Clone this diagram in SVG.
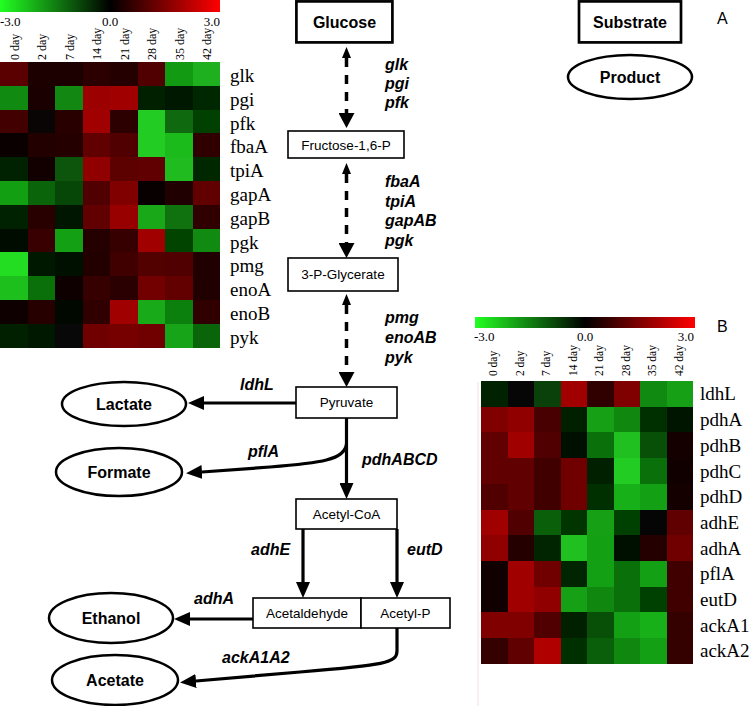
<svg xmlns="http://www.w3.org/2000/svg" width="750" height="706" viewBox="0 0 750 706">
<style>
.hl{font-family:"Liberation Serif",serif;font-size:19px;fill:#000}
.cl{font-family:"Liberation Serif",serif;font-size:12px;fill:#000}
.sc{font-family:"Liberation Serif",serif;font-size:13px;fill:#000}
.bx{fill:#fff;stroke:#000;stroke-width:1.6}
.bx2{fill:#fff;stroke:#000;stroke-width:2.7}
.el{fill:#fff;stroke:#000;stroke-width:2.5}
.bt{font-family:"Liberation Sans",Arial,sans-serif;font-size:16px;font-weight:bold;text-anchor:middle}
.nt{font-family:"Liberation Sans",Arial,sans-serif;font-size:13.5px;text-anchor:middle}
.gn{font-family:"Liberation Sans",Arial,sans-serif;font-size:16px;font-weight:bold;font-style:italic}
.sl{fill:none;stroke:#000;stroke-width:3.2}
.dl{fill:none;stroke:#000;stroke-width:3.5;stroke-dasharray:9 8}
.cells rect{shape-rendering:crispEdges}
</style>
<defs>
<linearGradient id="cb" x1="0" y1="0" x2="1" y2="0">
<stop offset="0" stop-color="#22ff22"/>
<stop offset="0.5" stop-color="#000"/>
<stop offset="1" stop-color="#ff0000"/>
</linearGradient>
<marker id="ah" viewBox="0 0 16 14" refX="0" refY="7" markerWidth="16" markerHeight="14" markerUnits="userSpaceOnUse" orient="auto">
<path d="M0,0 L16,7 L0,14 z" fill="#000"/>
</marker>
<marker id="ad" viewBox="0 0 15 16" refX="0" refY="8" markerWidth="15" markerHeight="16" markerUnits="userSpaceOnUse" orient="auto">
<path d="M0,0 L15,8 L0,16 z" fill="#000"/>
</marker>
<marker id="as" viewBox="0 0 11 9" refX="0" refY="4.5" markerWidth="11" markerHeight="9" markerUnits="userSpaceOnUse" orient="auto-start-reverse">
<path d="M0,0 L11,4.5 L0,9 z" fill="#000"/>
</marker>
</defs>
<rect width="750" height="706" fill="#fff"/>
<line x1="478" y1="382" x2="478" y2="706" stroke="#f3dede" stroke-width="1"/>

<!-- Left heatmap -->
<g id="heatmapA">
<rect x="0" y="0" width="220" height="12" fill="url(#cb)"/>
<text class="sc" x="0" y="26">-3.0</text>
<text class="sc" x="110" y="26" text-anchor="middle">0.0</text>
<text class="sc" x="220" y="26" text-anchor="end">3.0</text>
<text class="cl" transform="translate(18.75,60) rotate(-90)">0 day</text>
<text class="cl" transform="translate(46.25,60) rotate(-90)">2 day</text>
<text class="cl" transform="translate(73.75,60) rotate(-90)">7 day</text>
<text class="cl" transform="translate(101.25,60) rotate(-90)">14 day</text>
<text class="cl" transform="translate(128.75,60) rotate(-90)">21 day</text>
<text class="cl" transform="translate(156.25,60) rotate(-90)">28 day</text>
<text class="cl" transform="translate(183.75,60) rotate(-90)">35 day</text>
<text class="cl" transform="translate(211.25,60) rotate(-90)">42 day</text>
<g class="cells" transform="translate(0,62)">
<rect x="0" y="0" width="28" height="24.3" fill="#5a0000"/><rect x="27.5" y="0" width="28" height="24.3" fill="#1c0000"/><rect x="55" y="0" width="28" height="24.3" fill="#1c0000"/><rect x="82.5" y="0" width="28" height="24.3" fill="#2c0000"/><rect x="110" y="0" width="28" height="24.3" fill="#240000"/><rect x="137.5" y="0" width="28" height="24.3" fill="#500000"/><rect x="165" y="0" width="28" height="24.3" fill="#139a13"/><rect x="192.5" y="0" width="27.5" height="24.3" fill="#1fb01f"/>
<rect x="0" y="23.8" width="28" height="24.3" fill="#118a11"/><rect x="27.5" y="23.8" width="28" height="24.3" fill="#1a0000"/><rect x="55" y="23.8" width="28" height="24.3" fill="#128812"/><rect x="82.5" y="23.8" width="28" height="24.3" fill="#9c0000"/><rect x="110" y="23.8" width="28" height="24.3" fill="#a00000"/><rect x="137.5" y="23.8" width="28" height="24.3" fill="#002000"/><rect x="165" y="23.8" width="28" height="24.3" fill="#001800"/><rect x="192.5" y="23.8" width="27.5" height="24.3" fill="#002800"/>
<rect x="0" y="47.6" width="28" height="24.3" fill="#420000"/><rect x="27.5" y="47.6" width="28" height="24.3" fill="#0a0505"/><rect x="55" y="47.6" width="28" height="24.3" fill="#280000"/><rect x="82.5" y="47.6" width="28" height="24.3" fill="#a00000"/><rect x="110" y="47.6" width="28" height="24.3" fill="#2c0000"/><rect x="137.5" y="47.6" width="28" height="24.3" fill="#22cc22"/><rect x="165" y="47.6" width="28" height="24.3" fill="#0f6a0f"/><rect x="192.5" y="47.6" width="27.5" height="24.3" fill="#004000"/>
<rect x="0" y="71.4" width="28" height="24.3" fill="#0a0000"/><rect x="27.5" y="71.4" width="28" height="24.3" fill="#220000"/><rect x="55" y="71.4" width="28" height="24.3" fill="#240000"/><rect x="82.5" y="71.4" width="28" height="24.3" fill="#600000"/><rect x="110" y="71.4" width="28" height="24.3" fill="#500000"/><rect x="137.5" y="71.4" width="28" height="24.3" fill="#22cc22"/><rect x="165" y="71.4" width="28" height="24.3" fill="#1cbb1c"/><rect x="192.5" y="71.4" width="27.5" height="24.3" fill="#300000"/>
<rect x="0" y="95.2" width="28" height="24.3" fill="#002200"/><rect x="27.5" y="95.2" width="28" height="24.3" fill="#120000"/><rect x="55" y="95.2" width="28" height="24.3" fill="#0d550d"/><rect x="82.5" y="95.2" width="28" height="24.3" fill="#900000"/><rect x="110" y="95.2" width="28" height="24.3" fill="#5c0000"/><rect x="137.5" y="95.2" width="28" height="24.3" fill="#600000"/><rect x="165" y="95.2" width="28" height="24.3" fill="#1fbb1f"/><rect x="192.5" y="95.2" width="27.5" height="24.3" fill="#002800"/>
<rect x="0" y="119" width="28" height="24.3" fill="#12a012"/><rect x="27.5" y="119" width="28" height="24.3" fill="#0a640a"/><rect x="55" y="119" width="28" height="24.3" fill="#064606"/><rect x="82.5" y="119" width="28" height="24.3" fill="#500000"/><rect x="110" y="119" width="28" height="24.3" fill="#800000"/><rect x="137.5" y="119" width="28" height="24.3" fill="#080000"/><rect x="165" y="119" width="28" height="24.3" fill="#200000"/><rect x="192.5" y="119" width="27.5" height="24.3" fill="#600000"/>
<rect x="0" y="142.8" width="28" height="24.3" fill="#002200"/><rect x="27.5" y="142.8" width="28" height="24.3" fill="#280000"/><rect x="55" y="142.8" width="28" height="24.3" fill="#001600"/><rect x="82.5" y="142.8" width="28" height="24.3" fill="#600000"/><rect x="110" y="142.8" width="28" height="24.3" fill="#980000"/><rect x="137.5" y="142.8" width="28" height="24.3" fill="#18a818"/><rect x="165" y="142.8" width="28" height="24.3" fill="#0f720f"/><rect x="192.5" y="142.8" width="27.5" height="24.3" fill="#300000"/>
<rect x="0" y="166.6" width="28" height="24.3" fill="#000c00"/><rect x="27.5" y="166.6" width="28" height="24.3" fill="#380000"/><rect x="55" y="166.6" width="28" height="24.3" fill="#14a014"/><rect x="82.5" y="166.6" width="28" height="24.3" fill="#240000"/><rect x="110" y="166.6" width="28" height="24.3" fill="#360000"/><rect x="137.5" y="166.6" width="28" height="24.3" fill="#a00000"/><rect x="165" y="166.6" width="28" height="24.3" fill="#004400"/><rect x="192.5" y="166.6" width="27.5" height="24.3" fill="#108a10"/>
<rect x="0" y="190.4" width="28" height="24.3" fill="#22dd22"/><rect x="27.5" y="190.4" width="28" height="24.3" fill="#001800"/><rect x="55" y="190.4" width="28" height="24.3" fill="#001000"/><rect x="82.5" y="190.4" width="28" height="24.3" fill="#220000"/><rect x="110" y="190.4" width="28" height="24.3" fill="#400000"/><rect x="137.5" y="190.4" width="28" height="24.3" fill="#520000"/><rect x="165" y="190.4" width="28" height="24.3" fill="#500000"/><rect x="192.5" y="190.4" width="27.5" height="24.3" fill="#200000"/>
<rect x="0" y="214.2" width="28" height="24.3" fill="#1cbf1c"/><rect x="27.5" y="214.2" width="28" height="24.3" fill="#0a700a"/><rect x="55" y="214.2" width="28" height="24.3" fill="#0e0000"/><rect x="82.5" y="214.2" width="28" height="24.3" fill="#360000"/><rect x="110" y="214.2" width="28" height="24.3" fill="#2a0000"/><rect x="137.5" y="214.2" width="28" height="24.3" fill="#720000"/><rect x="165" y="214.2" width="28" height="24.3" fill="#620000"/><rect x="192.5" y="214.2" width="27.5" height="24.3" fill="#200000"/>
<rect x="0" y="238" width="28" height="24.3" fill="#0e0000"/><rect x="27.5" y="238" width="28" height="24.3" fill="#260000"/><rect x="55" y="238" width="28" height="24.3" fill="#000800"/><rect x="82.5" y="238" width="28" height="24.3" fill="#300000"/><rect x="110" y="238" width="28" height="24.3" fill="#a00000"/><rect x="137.5" y="238" width="28" height="24.3" fill="#18aa18"/><rect x="165" y="238" width="28" height="24.3" fill="#0c800c"/><rect x="192.5" y="238" width="27.5" height="24.3" fill="#300000"/>
<rect x="0" y="261.8" width="28" height="23.8" fill="#002000"/><rect x="27.5" y="261.8" width="28" height="23.8" fill="#001800"/><rect x="55" y="261.8" width="28" height="23.8" fill="#080808"/><rect x="82.5" y="261.8" width="28" height="23.8" fill="#700000"/><rect x="110" y="261.8" width="28" height="23.8" fill="#760000"/><rect x="137.5" y="261.8" width="28" height="23.8" fill="#700000"/><rect x="165" y="261.8" width="28" height="23.8" fill="#18a418"/><rect x="192.5" y="261.8" width="27.5" height="23.8" fill="#0a640a"/>
</g>
<text class="hl" x="230" y="82">glk</text>
<text class="hl" x="230" y="105.7">pgi</text>
<text class="hl" x="230" y="129.5">pfk</text>
<text class="hl" x="230" y="153.3">fbaA</text>
<text class="hl" x="230" y="177.1">tpiA</text>
<text class="hl" x="230" y="200.9">gapA</text>
<text class="hl" x="230" y="224.7">gapB</text>
<text class="hl" x="230" y="248.5">pgk</text>
<text class="hl" x="230" y="272.3">pmg</text>
<text class="hl" x="230" y="296.1">enoA</text>
<text class="hl" x="230" y="319.9">enoB</text>
<text class="hl" x="230" y="343.7">pyk</text>
</g>

<!-- Right heatmap -->
<g id="heatmapB">
<rect x="475" y="317" width="220" height="11" fill="url(#cb)"/>
<text class="sc" x="474" y="341">-3.0</text>
<text class="sc" x="585" y="341" text-anchor="middle">0.0</text>
<text class="sc" x="694" y="341" text-anchor="end">3.0</text>
<text class="cl" transform="translate(497,376) rotate(-90)" style="font-size:11.5px">0 day</text>
<text class="cl" transform="translate(524,376) rotate(-90)" style="font-size:11.5px">2 day</text>
<text class="cl" transform="translate(550,376) rotate(-90)" style="font-size:11.5px">7 day</text>
<text class="cl" transform="translate(577,376) rotate(-90)" style="font-size:11.5px">14 day</text>
<text class="cl" transform="translate(603,376) rotate(-90)" style="font-size:11.5px">21 day</text>
<text class="cl" transform="translate(630,376) rotate(-90)" style="font-size:11.5px">28 day</text>
<text class="cl" transform="translate(656,376) rotate(-90)" style="font-size:11.5px">35 day</text>
<text class="cl" transform="translate(683,376) rotate(-90)" style="font-size:11.5px">42 day</text>
<text x="717" y="332" style="font-family:'Liberation Sans',Arial,sans-serif;font-size:16px">B</text>
<g class="cells" transform="translate(481,381)">
<rect x="0" y="0" width="27" height="26.2" fill="#002200"/><rect x="26.5" y="0" width="27" height="26.2" fill="#060606"/><rect x="53" y="0" width="27" height="26.2" fill="#0a400a"/><rect x="79.5" y="0" width="27" height="26.2" fill="#a00000"/><rect x="106" y="0" width="27" height="26.2" fill="#300000"/><rect x="132.5" y="0" width="27" height="26.2" fill="#800000"/><rect x="159" y="0" width="27" height="26.2" fill="#108a10"/><rect x="185.5" y="0" width="26.5" height="26.2" fill="#15a015"/>
<rect x="0" y="25.7" width="27" height="26.2" fill="#800000"/><rect x="26.5" y="25.7" width="27" height="26.2" fill="#900000"/><rect x="53" y="25.7" width="27" height="26.2" fill="#480000"/><rect x="79.5" y="25.7" width="27" height="26.2" fill="#002000"/><rect x="106" y="25.7" width="27" height="26.2" fill="#15a015"/><rect x="132.5" y="25.7" width="27" height="26.2" fill="#108810"/><rect x="159" y="25.7" width="27" height="26.2" fill="#003000"/><rect x="185.5" y="25.7" width="26.5" height="26.2" fill="#001500"/>
<rect x="0" y="51.4" width="27" height="26.2" fill="#600000"/><rect x="26.5" y="51.4" width="27" height="26.2" fill="#a00000"/><rect x="53" y="51.4" width="27" height="26.2" fill="#500000"/><rect x="79.5" y="51.4" width="27" height="26.2" fill="#001000"/><rect x="106" y="51.4" width="27" height="26.2" fill="#0a700a"/><rect x="132.5" y="51.4" width="27" height="26.2" fill="#20c020"/><rect x="159" y="51.4" width="27" height="26.2" fill="#085008"/><rect x="185.5" y="51.4" width="26.5" height="26.2" fill="#150000"/>
<rect x="0" y="77.1" width="27" height="26.2" fill="#600000"/><rect x="26.5" y="77.1" width="27" height="26.2" fill="#600000"/><rect x="53" y="77.1" width="27" height="26.2" fill="#400000"/><rect x="79.5" y="77.1" width="27" height="26.2" fill="#700000"/><rect x="106" y="77.1" width="27" height="26.2" fill="#002000"/><rect x="132.5" y="77.1" width="27" height="26.2" fill="#22cc22"/><rect x="159" y="77.1" width="27" height="26.2" fill="#0a700a"/><rect x="185.5" y="77.1" width="26.5" height="26.2" fill="#100000"/>
<rect x="0" y="102.8" width="27" height="26.2" fill="#500000"/><rect x="26.5" y="102.8" width="27" height="26.2" fill="#600000"/><rect x="53" y="102.8" width="27" height="26.2" fill="#400000"/><rect x="79.5" y="102.8" width="27" height="26.2" fill="#700000"/><rect x="106" y="102.8" width="27" height="26.2" fill="#003000"/><rect x="132.5" y="102.8" width="27" height="26.2" fill="#18b018"/><rect x="159" y="102.8" width="27" height="26.2" fill="#14a014"/><rect x="185.5" y="102.8" width="26.5" height="26.2" fill="#150000"/>
<rect x="0" y="128.5" width="27" height="26.2" fill="#a00000"/><rect x="26.5" y="128.5" width="27" height="26.2" fill="#500000"/><rect x="53" y="128.5" width="27" height="26.2" fill="#0a600a"/><rect x="79.5" y="128.5" width="27" height="26.2" fill="#003500"/><rect x="106" y="128.5" width="27" height="26.2" fill="#15a015"/><rect x="132.5" y="128.5" width="27" height="26.2" fill="#004000"/><rect x="159" y="128.5" width="27" height="26.2" fill="#050505"/><rect x="185.5" y="128.5" width="26.5" height="26.2" fill="#600000"/>
<rect x="0" y="154.2" width="27" height="26.2" fill="#900000"/><rect x="26.5" y="154.2" width="27" height="26.2" fill="#250000"/><rect x="53" y="154.2" width="27" height="26.2" fill="#002500"/><rect x="79.5" y="154.2" width="27" height="26.2" fill="#20c020"/><rect x="106" y="154.2" width="27" height="26.2" fill="#13a013"/><rect x="132.5" y="154.2" width="27" height="26.2" fill="#001000"/><rect x="159" y="154.2" width="27" height="26.2" fill="#250000"/><rect x="185.5" y="154.2" width="26.5" height="26.2" fill="#700000"/>
<rect x="0" y="179.9" width="27" height="26.2" fill="#100000"/><rect x="26.5" y="179.9" width="27" height="26.2" fill="#a00000"/><rect x="53" y="179.9" width="27" height="26.2" fill="#700000"/><rect x="79.5" y="179.9" width="27" height="26.2" fill="#002500"/><rect x="106" y="179.9" width="27" height="26.2" fill="#14a014"/><rect x="132.5" y="179.9" width="27" height="26.2" fill="#0a700a"/><rect x="159" y="179.9" width="27" height="26.2" fill="#14a014"/><rect x="185.5" y="179.9" width="26.5" height="26.2" fill="#400000"/>
<rect x="0" y="205.6" width="27" height="26.2" fill="#100000"/><rect x="26.5" y="205.6" width="27" height="26.2" fill="#a00000"/><rect x="53" y="205.6" width="27" height="26.2" fill="#900000"/><rect x="79.5" y="205.6" width="27" height="26.2" fill="#15a015"/><rect x="106" y="205.6" width="27" height="26.2" fill="#108810"/><rect x="132.5" y="205.6" width="27" height="26.2" fill="#0a700a"/><rect x="159" y="205.6" width="27" height="26.2" fill="#004000"/><rect x="185.5" y="205.6" width="26.5" height="26.2" fill="#400000"/>
<rect x="0" y="231.3" width="27" height="26.2" fill="#800000"/><rect x="26.5" y="231.3" width="27" height="26.2" fill="#800000"/><rect x="53" y="231.3" width="27" height="26.2" fill="#500000"/><rect x="79.5" y="231.3" width="27" height="26.2" fill="#002000"/><rect x="106" y="231.3" width="27" height="26.2" fill="#085008"/><rect x="132.5" y="231.3" width="27" height="26.2" fill="#14a014"/><rect x="159" y="231.3" width="27" height="26.2" fill="#18b018"/><rect x="185.5" y="231.3" width="26.5" height="26.2" fill="#350000"/>
<rect x="0" y="257" width="27" height="25.7" fill="#350000"/><rect x="26.5" y="257" width="27" height="25.7" fill="#600000"/><rect x="53" y="257" width="27" height="25.7" fill="#b00000"/><rect x="79.5" y="257" width="27" height="25.7" fill="#003000"/><rect x="106" y="257" width="27" height="25.7" fill="#0a600a"/><rect x="132.5" y="257" width="27" height="25.7" fill="#108810"/><rect x="159" y="257" width="27" height="25.7" fill="#14a014"/><rect x="185.5" y="257" width="26.5" height="25.7" fill="#350000"/>
</g>
<text class="hl" x="700" y="400.4">ldhL</text>
<text class="hl" x="700" y="426.1">pdhA</text>
<text class="hl" x="700" y="451.8">pdhB</text>
<text class="hl" x="700" y="477.5">pdhC</text>
<text class="hl" x="700" y="503.2">pdhD</text>
<text class="hl" x="700" y="528.9">adhE</text>
<text class="hl" x="700" y="554.6">adhA</text>
<text class="hl" x="700" y="580.3">pflA</text>
<text class="hl" x="700" y="606">eutD</text>
<text class="hl" x="700" y="631.7">ackA1</text>
<text class="hl" x="700" y="657.4">ackA2</text>
</g>

<!-- Legend -->
<g id="substrate"><rect class="bx2" x="579" y="1.4" width="102" height="41"/><text class="bt" x="630" y="28">Substrate</text></g>
<g id="product"><ellipse class="el" cx="630" cy="77" rx="62" ry="22"/><text class="bt" x="630" y="83">Product</text></g>
<text x="717" y="24" style="font-family:'Liberation Sans',Arial,sans-serif;font-size:16px">A</text>

<!-- Connectors -->
<g id="connectors">
<path class="dl" d="M346.5,58 V113" marker-start="url(#as)" marker-end="url(#ad)"/>
<path class="dl" d="M346.5,174 V243" marker-start="url(#as)" marker-end="url(#ad)"/>
<path class="dl" d="M346.5,305 V372" marker-start="url(#as)" marker-end="url(#ad)"/>
<path class="sl" d="M296,403 H204" marker-end="url(#ah)"/>
<path class="sl" d="M346.5,418 V483" marker-end="url(#ah)"/>
<path class="sl" d="M346.5,444 C345,460 320,463 270,467 L202,472" marker-end="url(#ah)"/>
<path class="sl" d="M303,529 V582" marker-end="url(#ah)"/>
<path class="sl" d="M397,529 V582" marker-end="url(#ah)"/>
<path class="sl" d="M253,619 H190" marker-end="url(#ah)"/>
<path class="sl" d="M397,628 V651 C397,663 385,665 300,672 L196,681" marker-end="url(#ah)"/>
</g>

<!-- Gene labels -->
<g id="genes">
<text class="gn" x="385" y="70">glk</text>
<text class="gn" x="385" y="89">pgi</text>
<text class="gn" x="385" y="108">pfk</text>
<text class="gn" x="385" y="187">fbaA</text>
<text class="gn" x="385" y="207">tpiA</text>
<text class="gn" x="385" y="226">gapAB</text>
<text class="gn" x="385" y="246">pgk</text>
<text class="gn" x="385" y="323">pmg</text>
<text class="gn" x="385" y="343">enoAB</text>
<text class="gn" x="385" y="363">pyk</text>
<text class="gn" x="240" y="390">ldhL</text>
<text class="gn" x="248" y="457">pflA</text>
<text class="gn" x="362" y="465">pdhABCD</text>
<text class="gn" x="251" y="555">adhE</text>
<text class="gn" x="407" y="555">eutD</text>
<text class="gn" x="194" y="604">adhA</text>
<text class="gn" x="222" y="663">ackA1A2</text>
</g>

<!-- Nodes -->
<g id="glucose"><rect class="bx2" x="296.4" y="1.4" width="96" height="41"/><text class="bt" x="344.5" y="28">Glucose</text></g>
<g id="fructose"><rect class="bx" x="288" y="131" width="116" height="27"/><text class="nt" x="346" y="150">Fructose-1,6-P</text></g>
<g id="pglycerate"><rect class="bx" x="288" y="258" width="110" height="33"/><text class="nt" x="343" y="279">3-P-Glycerate</text></g>
<g id="pyruvate"><rect class="bx" x="296" y="387" width="101" height="31"/><text class="nt" x="346.5" y="407">Pyruvate</text></g>
<g id="lactate"><ellipse class="el" cx="124" cy="404" rx="62" ry="22"/><text class="bt" x="124" y="410">Lactate</text></g>
<g id="formate"><ellipse class="el" cx="119" cy="472" rx="63" ry="24"/><text class="bt" x="119" y="478">Formate</text></g>
<g id="acetylcoa"><rect class="bx" x="296" y="499" width="101" height="30"/><text class="nt" x="346.5" y="519">Acetyl-CoA</text></g>
<g id="acetaldehyde"><rect class="bx" x="253" y="598" width="108" height="30"/><text class="nt" x="307" y="618">Acetaldehyde</text></g>
<g id="acetylp"><rect class="bx" x="361" y="598" width="89" height="30"/><text class="nt" x="405.5" y="618">Acetyl-P</text></g>
<g id="ethanol"><ellipse class="el" cx="111" cy="618" rx="62" ry="25"/><text class="bt" x="111" y="624">Ethanol</text></g>
<g id="acetate"><ellipse class="el" cx="115" cy="680" rx="63" ry="25"/><text class="bt" x="115" y="686">Acetate</text></g>
</svg>
